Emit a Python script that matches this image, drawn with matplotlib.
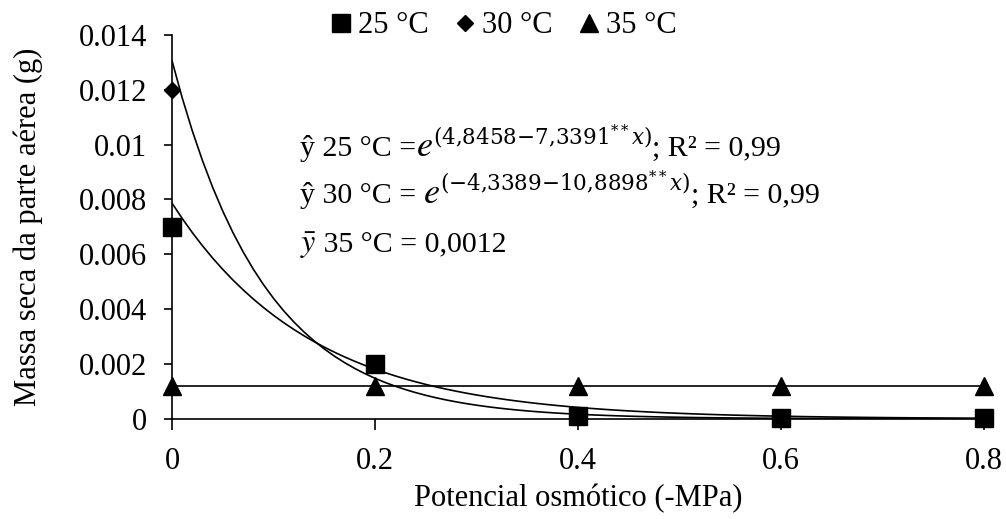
import numpy as np
import matplotlib
matplotlib.use("Agg")
import matplotlib.pyplot as plt
from matplotlib.ticker import FuncFormatter

plt.rcParams['font.family'] = ['Liberation Serif', 'DejaVu Serif']
plt.rcParams['mathtext.fontset'] = 'stix'

# observed points
potencial = [0, 0.2, 0.4, 0.6, 0.8]
massa_25 = [0.0070, 0.0020, 0.0001, 0.00003, 0.00002]
massa_30 = [0.0120, 0.0020, 0.00005, 0.00002, 0.00001]
massa_35 = [0.0012, 0.0012, 0.0012, 0.0012, 0.0012]

# fitted coefficients (y = exp(a + b*x)) and mean for 35 C
coef_25 = (-4.8458, -7.3391)
coef_30 = (-4.3389, -10.8898)
media_35 = 0.0012

xfit = np.linspace(0, 0.8, 81)

fig = plt.figure(figsize=(10.06, 5.19), dpi=100)
ax = fig.add_axes([0.171, 0.193, 0.807, 0.740])

lw = 1.2
ax.plot(xfit, np.exp(coef_25[0] + coef_25[1] * xfit), color='black', lw=lw)
ax.plot(xfit, np.exp(coef_30[0] + coef_30[1] * xfit), color='black', lw=lw)
ax.plot([xfit[0], xfit[-1]], [media_35, media_35], color='black', lw=lw)

ax.plot(potencial, massa_30, 'D', color='black', ms=8.5, clip_on=False, zorder=3, label='30 °C')
ax.plot(potencial, massa_25, 's', color='black', ms=13, clip_on=False, zorder=3, label='25 °C')
ax.plot(potencial, massa_35, '^', color='black', ms=13, clip_on=False, zorder=4, label='35 °C')

ax.set_xlim(0, 0.8)
ax.set_ylim(0, 0.014)
ax.set_xticks([0, 0.2, 0.4, 0.6, 0.8])
ax.set_yticks(np.arange(0, 0.0141, 0.002))
ax.xaxis.set_major_formatter(FuncFormatter(lambda v, p: '0' if v == 0 else f'{v:g}'))
ax.yaxis.set_major_formatter(FuncFormatter(lambda v, p: '0' if abs(v) < 1e-9 else f'{round(v, 3):g}'))

for s in ['top', 'right']:
    ax.spines[s].set_visible(False)
for s in ['left', 'bottom']:
    ax.spines[s].set_linewidth(1.2)
ax.tick_params(axis='y', direction='out', length=6, width=1.2, labelsize=22, pad=12)
ax.tick_params(axis='x', direction='out', length=8, width=1.2, labelsize=22, pad=12)

ax.set_xlabel('Potencial osmótico (-MPa)', fontsize=22, labelpad=6)
ax.set_ylabel('Massa seca da parte aérea (g)', fontsize=22, labelpad=26)

# legend in the original series order
handles, labels = ax.get_legend_handles_labels()
order = [1, 0, 2]
fig.legend([handles[i] for i in order], [labels[i] for i in order],
           loc='center', bbox_to_anchor=(0.5, 0.95), ncol=3, frameon=False,
           fontsize=22, handletextpad=0.15, columnspacing=0.8, handlelength=0.8,
           borderpad=0.2)

# equations, written piece by piece (Excel-like equation layout)
renderer = fig.canvas.get_renderer()
H = fig.bbox.height


def write_line(x, y_px, pieces):
    for txt, size, dy, mfam in pieces:
        t = fig.text(x, 1 - (y_px - dy) / H, txt, fontsize=size, va='baseline',
                     math_fontfamily=mfam)
        bb = t.get_window_extent(renderer=renderer)
        x = bb.x1 / fig.bbox.width


fs = 21.5
write_line(0.298, 156, [('ŷ 25 °C =', fs, 0, 'stix'),
                        (r'$e$', 26, 0, 'stix'),
                        (r'$(4{,}8458{-}7{,}3391^{**}x)$', 15.5, 12, 'dejavuserif'),
                        ('; R² = 0,99', fs, 0, 'stix')])
write_line(0.298, 203, [('ŷ 30 °C = ', fs, 0, 'stix'),
                        (r'$e$', 26, 0, 'stix'),
                        (r'$({-}4{,}3389{-}10{,}8898^{**}x)$', 15.5, 12, 'dejavuserif'),
                        ('; R² = 0,99', fs, 0, 'stix')])
write_line(0.298, 252, [(r'$\bar{y}$', 23, 0, 'stix'),
                        (' 35 °C = 0,0012', fs, 0, 'stix')])

fig.savefig('out.png', dpi=100)
